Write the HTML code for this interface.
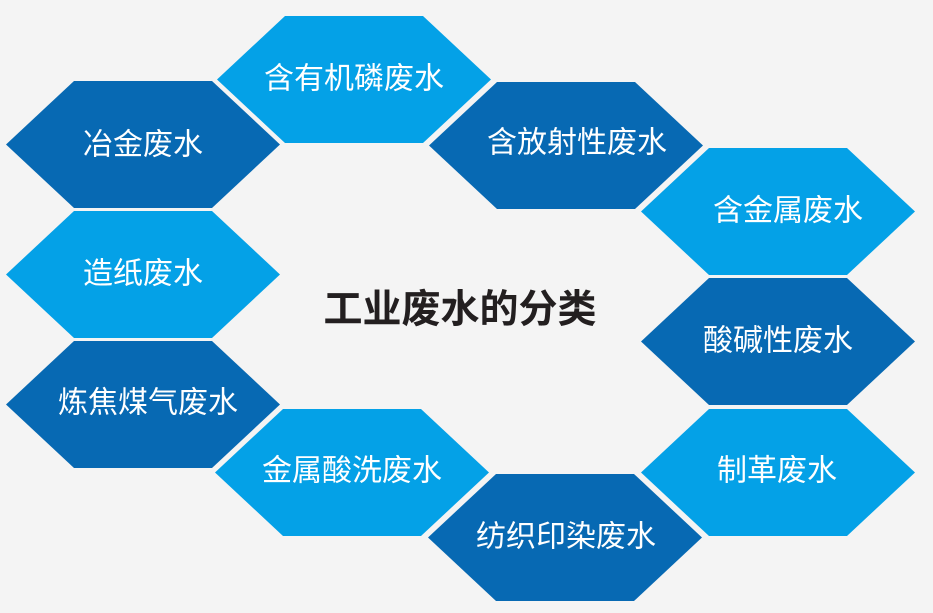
<!DOCTYPE html>
<html><head><meta charset="utf-8"><style>
html,body{margin:0;padding:0;background:#f4f4f4;}
svg{display:block}
text{font-family:"Liberation Sans","Noto Sans CJK SC",sans-serif;fill:#fff;font-size:30px;text-anchor:middle;dominant-baseline:central}
</style></head><body>
<svg width="933" height="613" viewBox="0 0 933 613">
<rect width="933" height="613" fill="#f4f4f4"/>
<polygon points="217,79.5 285,16 423,16 491,79.5 423,143 285,143" fill="#04a1e7"/>
<text x="354" y="79">含有机磷废水</text>
<polygon points="6,144.5 74,81 212,81 280,144.5 212,208 74,208" fill="#0769b3"/>
<text x="143" y="145">冶金废水</text>
<polygon points="429,145.5 497,82 635,82 703,145.5 635,209 497,209" fill="#0769b3"/>
<text x="577" y="143">含放射性废水</text>
<polygon points="641,211.5 709,148 847,148 915,211.5 847,275 709,275" fill="#04a1e7"/>
<text x="788" y="211">含金属废水</text>
<polygon points="6,274.5 74,211 212,211 280,274.5 212,338 74,338" fill="#04a1e7"/>
<text x="143" y="274">造纸废水</text>
<polygon points="641,341.5 709,278 847,278 915,341.5 847,405 709,405" fill="#0769b3"/>
<text x="778" y="341">酸碱性废水</text>
<polygon points="6,404.5 74,341 212,341 280,404.5 212,468 74,468" fill="#0769b3"/>
<text x="148" y="403">炼焦煤气废水</text>
<polygon points="215,472.5 283,409 421,409 489,472.5 421,536 283,536" fill="#04a1e7"/>
<text x="352" y="471">金属酸洗废水</text>
<polygon points="641,472.5 709,409 847,409 915,472.5 847,536 709,536" fill="#04a1e7"/>
<text x="777" y="471">制革废水</text>
<polygon points="428,537.5 496,474 634,474 702,537.5 634,601 496,601" fill="#0769b3"/>
<text x="566" y="537">纺织印染废水</text>
<text x="460" y="310" style="fill:#231f20;font-size:39px;font-weight:bold">工业废水的分类</text>
</svg>
</body></html>
